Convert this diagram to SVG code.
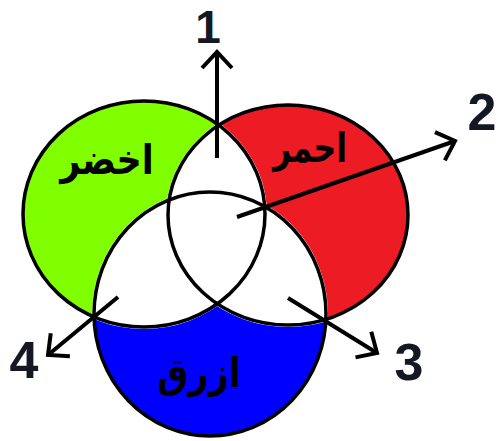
<svg xmlns="http://www.w3.org/2000/svg" width="500" height="441" viewBox="0 0 500 441">
<style>
.outline{fill:none;stroke:#000;stroke-width:3.5}
.arrow{fill:none;stroke:#000;stroke-width:4;marker-end:url(#head)}
.num{font-family:"Liberation Sans",Arial,sans-serif;font-weight:bold;font-size:52px;fill:#141824;text-anchor:middle}
.ar{font-family:"DejaVu Sans",sans-serif;font-weight:bold;font-size:35px;fill:#000;text-anchor:middle}
.cut{fill:#000;stroke:#000;stroke-width:4}
</style>
<defs>
<ellipse id="g" cx="144" cy="214" rx="121" ry="113"/>
<ellipse id="r" cx="288" cy="215" rx="120" ry="110"/>
<ellipse id="b" cx="210" cy="314" rx="116" ry="122"/>
<mask id="mg" maskUnits="userSpaceOnUse" x="0" y="0" width="500" height="441"><rect width="500" height="441" fill="#fff"/><use href="#r" class="cut"/><use href="#b" class="cut"/></mask>
<mask id="mr" maskUnits="userSpaceOnUse" x="0" y="0" width="500" height="441"><rect width="500" height="441" fill="#fff"/><use href="#g" class="cut"/><use href="#b" class="cut"/></mask>
<mask id="mb" maskUnits="userSpaceOnUse" x="0" y="0" width="500" height="441"><rect width="500" height="441" fill="#fff"/><use href="#g" class="cut"/><use href="#r" class="cut"/></mask>
<marker id="head" markerUnits="userSpaceOnUse" viewBox="-22 -18 26 36" refX="0" refY="0" markerWidth="26" markerHeight="36" orient="auto">
<path d="M-16,-15 L0,0 L-16,15" fill="none" stroke="#000" stroke-width="4" stroke-linejoin="miter"/>
</marker>
</defs>
<rect width="500" height="441" fill="#fff"/>
<g id="green">
<use href="#g" fill="#80ff00" mask="url(#mg)"/>
<use href="#g" class="outline"/>
<text class="ar" transform="translate(107,174) scale(1,1.18)">اخضر</text>
</g>
<g id="red">
<use href="#r" fill="#ed1c24" mask="url(#mr)"/>
<use href="#r" class="outline"/>
<text class="ar" transform="translate(310,162) scale(0.9,1.18)">احمر</text>
</g>
<g id="blue">
<use href="#b" fill="#0000ff" mask="url(#mb)"/>
<use href="#b" class="outline"/>
<text class="ar" transform="translate(199,387) scale(1,1.18)">ازرق</text>
</g>
<g id="connectors">
<line class="arrow" x1="217" y1="158" x2="217" y2="52"/>
<line class="arrow" x1="237" y1="217" x2="455" y2="141"/>
<line class="arrow" x1="288" y1="298" x2="377" y2="353"/>
<line class="arrow" x1="118" y1="297" x2="48" y2="355"/>
</g>
<g id="label-1"><text class="num" x="208" y="43" style="font-size:46px">1</text></g>
<g id="label-2"><text class="num" x="482" y="130">2</text></g>
<g id="label-3"><text class="num" x="409" y="380">3</text></g>
<g id="label-4"><text class="num" x="24" y="378">4</text></g>
</svg>
